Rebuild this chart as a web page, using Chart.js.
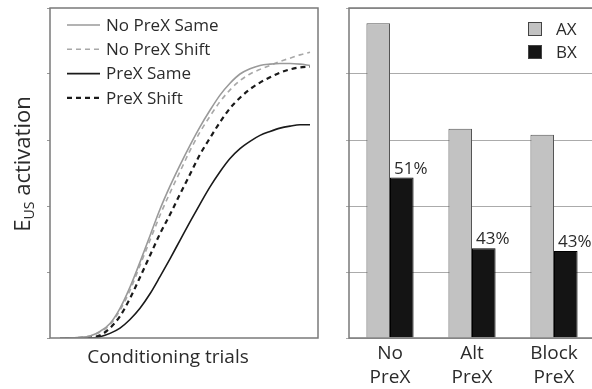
<!DOCTYPE html>
<html>
<head>
<meta charset="utf-8">
<script src="https://cdn.jsdelivr.net/npm/chart.js@4"></script>
<style>
  html, body { margin: 0; padding: 0; background: #fff; overflow: hidden; width: 592px; height: 389px; }
  #curvesBox { position: absolute; left: 0; top: 0; width: 330px; height: 389px; }
  #barsBox { position: absolute; left: 330px; top: 0; width: 272px; height: 389px; }
</style>
</head>
<body>
<div id="curvesBox"><canvas id="curves"></canvas></div>
<div id="barsBox"><canvas id="bars"></canvas></div>
<script>
// ---- Learning curves (left panel) ----
const trials = [1, 2, 3, 4, 5, 6, 7, 8, 9, 10, 11, 12, 13, 14, 15, 16, 17, 18, 19, 20, 21, 22, 23, 24, 25, 26];
const noPrexSame  = [0, 0, 0.01, 0.03, 0.10, 0.22, 0.45, 0.77, 1.15, 1.55, 1.95, 2.30, 2.62, 2.92, 3.20, 3.45, 3.68, 3.86, 4.00, 4.08, 4.13, 4.15, 4.16, 4.16, 4.15, 4.13];
const noPrexShift = [0, 0, 0.01, 0.03, 0.09, 0.20, 0.42, 0.72, 1.10, 1.48, 1.86, 2.20, 2.52, 2.84, 3.12, 3.36, 3.58, 3.76, 3.90, 4.00, 4.07, 4.13, 4.19, 4.24, 4.29, 4.33];
const prexSame    = [0, 0, 0, 0, 0.02, 0.07, 0.15, 0.28, 0.45, 0.67, 0.93, 1.20, 1.48, 1.76, 2.03, 2.29, 2.52, 2.72, 2.87, 2.98, 3.07, 3.13, 3.18, 3.21, 3.23, 3.23];
const prexShift   = [0, 0, 0, 0.01, 0.04, 0.15, 0.33, 0.60, 0.92, 1.25, 1.58, 1.87, 2.18, 2.48, 2.78, 3.03, 3.27, 3.48, 3.64, 3.77, 3.87, 3.95, 4.02, 4.07, 4.10, 4.11];
const curveNames  = ['No PreX Same', 'No PreX Shift', 'PreX Same', 'PreX Shift'];

// ---- Test responding (right panel) ----
const groups   = [['No', 'PreX'], ['Alt', 'PreX'], ['Block', 'PreX']];
const axValues = [4.77, 3.17, 3.08];
const bxValues = [2.43, 1.36, 1.32];
const seriesNames = ['AX', 'BX'];

const FONT = '"Open Sans", "DejaVu Sans", sans-serif';
const TEXT = '#2b2b2b';
const FRAME = '#7a7a7a';

function toPoints(values) {
  return values.map((v, i) => ({ x: trials[i], y: v }));
}

// Frame, in-plot legend and axis titles for the curve panel
const curvePanelDecor = {
  id: 'curvePanelDecor',
  afterDraw(chart) {
    const { ctx, chartArea: a } = chart;
    ctx.save();
    ctx.strokeStyle = FRAME;
    ctx.lineWidth = 1.5;
    ctx.setLineDash([]);
    ctx.strokeRect(a.left, a.top, a.right - a.left, a.bottom - a.top);

    // legend
    ctx.font = '17px ' + FONT;
    ctx.textBaseline = 'middle';
    ctx.textAlign = 'left';
    chart.data.datasets.forEach((ds, i) => {
      const y = 25 + i * 24.3;
      ctx.strokeStyle = ds.borderColor;
      ctx.lineWidth = ds.borderWidth;
      ctx.setLineDash(ds.borderDash || []);
      ctx.beginPath();
      ctx.moveTo(67, y);
      ctx.lineTo(100, y);
      ctx.stroke();
      ctx.setLineDash([]);
      ctx.fillStyle = TEXT;
      ctx.fillText(ds.label, 106, y + 1);
    });

    // x title
    ctx.font = '19px ' + FONT;
    ctx.textAlign = 'center';
    ctx.textBaseline = 'alphabetic';
    ctx.fillText('Conditioning trials', 168, 363);

    // y title with subscript
    const big = '22px ' + FONT, small = '14px ' + FONT;
    ctx.font = big;
    const wE = ctx.measureText('E').width;
    const wRest = ctx.measureText(' activation').width;
    ctx.font = small;
    const wSub = ctx.measureText('US').width;
    const total = wE + wSub + wRest;
    ctx.translate(30, 164 + total / 2);
    ctx.rotate(-Math.PI / 2);
    ctx.textAlign = 'left';
    ctx.font = big;
    ctx.fillText('E', 0, 0);
    ctx.font = small;
    ctx.fillText('US', wE, 4);
    ctx.font = big;
    ctx.fillText(' activation', wE + wSub, 0);
    ctx.restore();
  }
};

new Chart(document.getElementById('curves'), {
  type: 'line',
  data: {
    datasets: [
      { label: curveNames[0], data: toPoints(noPrexSame),  borderColor: '#9a9a9a', borderWidth: 1.6 },
      { label: curveNames[1], data: toPoints(noPrexShift), borderColor: '#a8a8a8', borderWidth: 1.6, borderDash: [5, 4] },
      { label: curveNames[2], data: toPoints(prexSame),    borderColor: '#1a1a1a', borderWidth: 1.6 },
      { label: curveNames[3], data: toPoints(prexShift),   borderColor: '#1a1a1a', borderWidth: 2.2, borderDash: [5, 4] }
    ]
  },
  options: {
    responsive: true,
    maintainAspectRatio: false,
    animation: false,
    layout: { padding: { left: 47, right: 12, top: 8, bottom: 0 } },
    elements: { point: { radius: 0 }, line: { cubicInterpolationMode: 'monotone' } },
    plugins: { legend: { display: false }, tooltip: { enabled: false } },
    scales: {
      x: {
        type: 'linear', min: 0, max: 26.8,
        grid: { display: false, drawTicks: false },
        border: { display: false },
        ticks: { display: false },
        afterFit(s) { s.height = 51; }
      },
      y: {
        min: 0, max: 5,
        ticks: { display: false, stepSize: 1 },
        grid: { drawOnChartArea: false, drawTicks: true, tickLength: 3, color: '#999' },
        border: { display: false },
        afterFit(s) { s.width = 3; }
      }
    }
  },
  plugins: [curvePanelDecor]
});

// Frame, ratio labels and legend for the bar panel
const barPanelDecor = {
  id: 'barPanelDecor',
  afterDraw(chart) {
    const { ctx, chartArea: a } = chart;
    ctx.save();
    ctx.strokeStyle = FRAME;
    ctx.lineWidth = 1.5;
    ctx.strokeRect(a.left, a.top, a.right - a.left, a.bottom - a.top);

    // BX as a share of AX above each BX bar
    const bxMeta = chart.getDatasetMeta(1);
    ctx.font = '17px ' + FONT;
    ctx.fillStyle = TEXT;
    ctx.textAlign = 'center';
    ctx.textBaseline = 'alphabetic';
    bxMeta.data.forEach((bar, i) => {
      const pct = Math.round(bxValues[i] / axValues[i] * 100) + '%';
      ctx.fillText(pct, bar.x + 9, bar.y - 4);
    });

    // legend
    const ds = chart.data.datasets;
    ds.forEach((d, i) => {
      const y = 29 + i * 23;
      ctx.fillStyle = d.backgroundColor;
      ctx.fillRect(528 - 330, y - 7, 14, 14);
      ctx.strokeStyle = '#444';
      ctx.lineWidth = 1;
      ctx.strokeRect(528 - 330 + 0.5, y - 6.5, 13, 13);
      ctx.fillStyle = TEXT;
      ctx.textAlign = 'left';
      ctx.textBaseline = 'middle';
      ctx.fillText(d.label, 556 - 330, y + 1);
    });
    ctx.restore();
  }
};

new Chart(document.getElementById('bars'), {
  type: 'bar',
  data: {
    labels: groups,
    datasets: [
      { label: seriesNames[0], data: axValues, backgroundColor: '#c2c2c2', borderColor: '#555', borderWidth: 1 },
      { label: seriesNames[1], data: bxValues, backgroundColor: '#141414', borderColor: '#000', borderWidth: 1 }
    ]
  },
  options: {
    responsive: true,
    maintainAspectRatio: false,
    animation: false,
    layout: { padding: { left: 16, right: 7, top: 8, bottom: 0 } },
    datasets: { bar: { categoryPercentage: 0.575, barPercentage: 1 } },
    plugins: { legend: { display: false }, tooltip: { enabled: false } },
    scales: {
      x: {
        grid: { display: false, drawTicks: false },
        border: { display: false },
        ticks: { color: TEXT, font: { family: FONT, size: 19, lineHeight: 1.3 }, padding: 3, maxRotation: 0 },
        afterFit(s) { s.height = 51; }
      },
      y: {
        min: 0, max: 5,
        ticks: { display: false, stepSize: 1 },
        grid: { color: '#ababab', lineWidth: 1, tickLength: 3 },
        border: { display: false },
        afterFit(s) { s.width = 3; }
      }
    }
  },
  plugins: [barPanelDecor]
});
</script>
</body>
</html>
